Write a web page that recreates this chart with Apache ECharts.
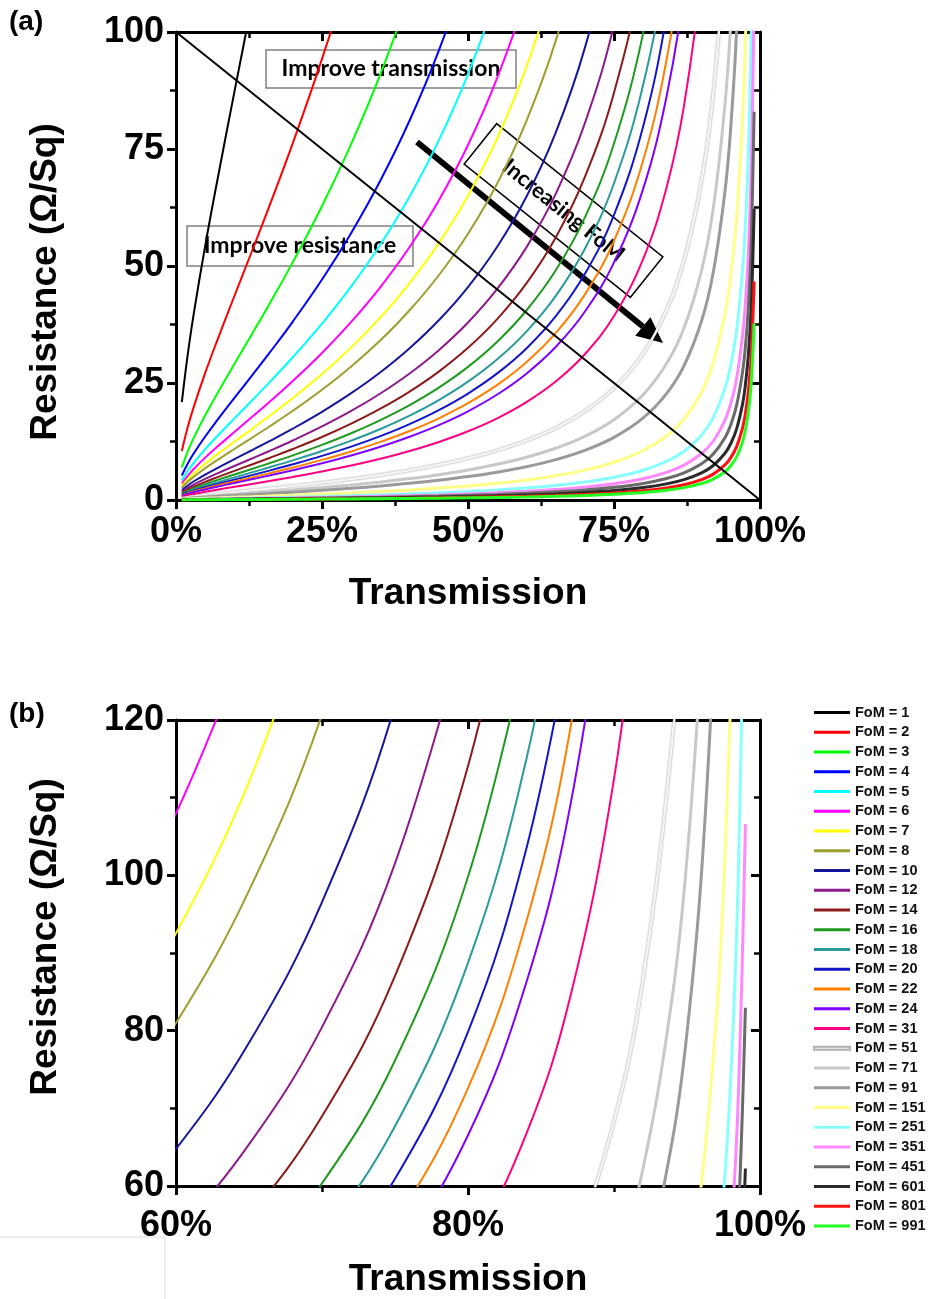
<!DOCTYPE html>
<html><head><meta charset="utf-8">
<script src="https://cdn.jsdelivr.net/npm/echarts@6/dist/echarts.min.js"></script>
<style>html,body{margin:0;padding:0;background:#fff}#c{width:931px;height:1299px}</style>
</head><body><div id="c"></div>
<script>
// Shared transmission grid (%)
const transmission = [1,2,3,5,7,10,13,16,20,25,30,35,40,45,50,55,60,65,70,75,80,84,87,90,92,94,95,96,97,97.5,98,98.5,99];
const fomValues = [1,2,3,4,5,6,7,8,10,12,14,16,18,20,22,24,31,51,71,91,151,251,351,451,601,801,991];
// Sheet resistance (Ohm/sq), aligned with transmission[]
const fom1 = [20.9,31.0,39.5,54.3,67.8,87.2,106.3,125.7];
const fom2 = [10.47,15.53,19.75,27.15,33.91,43.59,53.15,62.84,76.25,94.25,114.14,136.54];
const fom3 = [6.98,10.35,13.16,18.10,22.60,29.06,35.43,41.89,50.83,62.83,76.09,91.02,108.12,128.04];
const fom4 = [5.24,7.76,9.87,13.57,16.95,21.80,26.57,31.42,38.13,47.13,57.07,68.27,81.09,96.03,113.77,135.26];
const fom5 = [4.19,6.21,7.90,10.86,13.56,17.44,21.26,25.13,30.50,37.70,45.66,54.61,64.87,76.83,91.02,108.21,129.56];
const fom6 = [3.49,5.18,6.58,9.05,11.30,14.53,17.72,20.95,25.42,31.42,38.05,45.51,54.06,64.02,75.85,90.18,107.97,130.72];
const fom7 = [2.99,4.44,5.64,7.76,9.69,12.45,15.18,17.95,21.79,26.93,32.61,39.01,46.34,54.88,65.01,77.29,92.54,112.04,137.93];
const fom8 = [2.62,3.88,4.94,6.79,8.48,10.90,13.29,15.71,19.06,23.56,28.54,34.13,40.55,48.02,56.89,67.63,80.98,98.04,120.69,152.31];
const fom10 = [2.09,3.11,3.95,5.43,6.78,8.72,10.63,12.57,15.25,18.85,22.83,27.31,32.44,38.41,45.51,54.11,64.78,78.43,96.55,121.85,159.70];
const fom12 = [1.75,2.59,3.29,4.52,5.65,7.27,8.86,10.47,12.71,15.71,19.02,22.76,27.03,32.01,37.92,45.09,53.98,65.36,80.46,101.54,133.08];
const fom14 = [1.50,2.22,2.82,3.88,4.84,6.23,7.59,8.98,10.89,13.46,16.31,19.51,23.17,27.44,32.51,38.65,46.27,56.02,68.97,87.04,114.07,147.81];
const fom16 = [1.31,1.94,2.47,3.39,4.24,5.45,6.64,7.85,9.53,11.78,14.27,17.07,20.27,24.01,28.44,33.82,40.49,49.02,60.35,76.16,99.81,129.34];
const fom18 = [1.16,1.73,2.19,3.02,3.77,4.84,5.91,6.98,8.47,10.47,12.68,15.17,18.02,21.34,25.28,30.06,35.99,43.57,53.64,67.69,88.72,114.97,145.22];
const fom20 = [1.05,1.55,1.97,2.71,3.39,4.36,5.31,6.28,7.63,9.43,11.41,13.65,16.22,19.21,22.75,27.05,32.39,39.22,48.28,60.93,79.85,103.47,130.70];
const fom22 = [0.95,1.41,1.80,2.47,3.08,3.96,4.83,5.71,6.93,8.57,10.38,12.41,14.74,17.46,20.69,24.59,29.45,35.65,43.89,55.39,72.59,94.06,118.81,158.40];
const fom24 = [0.87,1.29,1.65,2.26,2.83,3.63,4.43,5.24,6.35,7.85,9.51,11.38,13.52,16.01,18.96,22.54,26.99,32.68,40.23,50.77,66.54,86.23,108.91,145.20];
const fom31 = [0.68,1.00,1.27,1.75,2.19,2.81,3.43,4.05,4.92,6.08,7.36,8.81,10.46,12.39,14.68,17.45,20.90,25.30,31.15,39.31,51.52,66.75,84.32,112.41,142.83];
const fom51 = [0.41,0.61,0.77,1.06,1.33,1.71,2.08,2.46,2.99,3.70,4.48,5.35,6.36,7.53,8.92,10.61,12.70,15.38,18.93,23.89,31.31,40.58,51.25,68.33,86.82,117.63,142.28];
const fom71 = [0.29,0.44,0.56,0.76,0.96,1.23,1.50,1.77,2.15,2.65,3.22,3.85,4.57,5.41,6.41,7.62,9.12,11.05,13.60,17.16,22.49,29.15,36.82,49.08,62.36,84.49,102.20,128.75];
const fom91 = [0.23,0.34,0.43,0.60,0.75,0.96,1.17,1.38,1.68,2.07,2.51,3.00,3.56,4.22,5.00,5.95,7.12,8.62,10.61,13.39,17.55,22.74,28.72,38.29,48.66,65.92,79.74,100.45,134.98];
const fom151 = [0.14,0.21,0.26,0.36,0.45,0.58,0.70,0.83,1.01,1.25,1.51,1.81,2.15,2.54,3.01,3.58,4.29,5.19,6.39,8.07,10.58,13.70,17.31,23.08,29.32,39.73,48.05,60.54,81.34,97.99,122.95];
const fom251 = [0.08,0.12,0.16,0.22,0.27,0.35,0.42,0.50,0.61,0.75,0.91,1.09,1.29,1.53,1.81,2.16,2.58,3.12,3.85,4.85,6.36,8.24,10.41,13.88,17.64,23.90,28.91,36.42,48.94,58.95,73.97,99.01,149.06];
const fom351 = [0.06,0.09,0.11,0.15,0.19,0.25,0.30,0.36,0.43,0.54,0.65,0.78,0.92,1.09,1.30,1.54,1.85,2.23,2.75,3.47,4.55,5.90,7.45,9.93,12.61,17.09,20.67,26.04,34.99,42.16,52.89,70.80,106.59];
const fom451 = [0.05,0.07,0.09,0.12,0.15,0.19,0.24,0.28,0.34,0.42,0.51,0.61,0.72,0.85,1.01,1.20,1.44,1.74,2.14,2.70,3.54,4.59,5.80,7.73,9.82,13.30,16.09,20.27,27.24,32.81,41.17,55.10,82.96];
const fom601 = [0.03,0.05,0.07,0.09,0.11,0.15,0.18,0.21,0.25,0.31,0.38,0.45,0.54,0.64,0.76,0.90,1.08,1.30,1.61,2.03,2.66,3.44,4.35,5.80,7.37,9.98,12.07,15.21,20.44,24.62,30.89,41.35,62.25];
const fom801 = [0.03,0.04,0.05,0.07,0.08,0.11,0.13,0.16,0.19,0.24,0.28,0.34,0.40,0.48,0.57,0.68,0.81,0.98,1.21,1.52,1.99,2.58,3.26,4.35,5.53,7.49,9.06,11.41,15.33,18.47,23.18,31.03,46.71];
const fom991 = [0.02,0.03,0.04,0.05,0.07,0.09,0.11,0.13,0.15,0.19,0.23,0.28,0.33,0.39,0.46,0.55,0.65,0.79,0.97,1.23,1.61,2.09,2.64,3.52,4.47,6.05,7.32,9.22,12.39,14.93,18.73,25.08,37.75];
const resistanceByFoM = [fom1,fom2,fom3,fom4,fom5,fom6,fom7,fom8,fom10,fom12,fom14,fom16,fom18,fom20,fom22,fom24,fom31,fom51,fom71,fom91,fom151,fom251,fom351,fom451,fom601,fom801,fom991];
// Diagonal guide line in panel (a): [transmission %, resistance]
const diagonalLine = [[0,100],[100,0]];
// Axis ticks
const xTicksA = [0,25,50,75,100];
const yTicksA = [0,25,50,75,100];
const xTicksB = [60,80,100];
const yTicksB = [60,80,100,120];

const lineColors = ['#000000','#ff0000','#00ff00','#0000ff','#00ffff','#ff00ff','#ffff00','#9e9e2e','#16169a','#8c1a8c','#8c1a1a','#1f9a1f','#2a9a9a','#1515c8','#ff8000','#8000ff','#ff0080','#f4f4f4','#c8c8c8','#9a9a9a','#ffff88','#88ffff','#ff88ff','#6a6a6a','#2a2a2a','#ff1010','#22ff22'];
const lineWidths = [2,2,2,2,2,2,2,2,2,2,2,2,2,2,2,2,2,2.5,3,3,3,3,3,3,3,3,3];

const FONT = 'Liberation Sans, Arial, sans-serif';
const LATO = 'Lato, Open Sans, sans-serif';
const chart = echarts.init(document.getElementById('c'), null, {renderer:'canvas'});

function axisPair(gridIndex, ticks, isX, fmt, margin) {
  const min = ticks[0], max = ticks[ticks.length-1], interval = ticks[1]-ticks[0];
  const main = {
    type:'value', gridIndex, min, max, interval,
    position: isX ? 'bottom' : 'left',
    axisLine:{show:true, onZero:false, lineStyle:{color:'#000', width:3}},
    axisTick:{show:true, inside:false, length:9, lineStyle:{color:'#000', width:3}},
    minorTick:{show:true, splitNumber:2, length:6, lineStyle:{color:'#000', width:2.5}},
    splitLine:{show:false},
    axisLabel:{show:true, margin: margin, color:'#000', fontFamily:FONT, fontWeight:'bold', fontSize:36, formatter: fmt}
  };
  const mirror = {
    type:'value', gridIndex, min, max, interval,
    position: isX ? 'top' : 'right',
    axisLine:{show:true, onZero:false, lineStyle:{color:'#000', width:3}},
    axisTick:{show:true, inside:true, length:9, lineStyle:{color:'#000', width:3}},
    minorTick:{show:true, splitNumber:2, length:6, lineStyle:{color:'#000', width:2.5}},
    splitLine:{show:false}, axisLabel:{show:false}
  };
  return [main, mirror];
}

const xa = axisPair(0, xTicksA, true, v => v + '%', 14);
const xb = axisPair(1, xTicksB, true, v => v + '%', 22);
const ya = axisPair(0, yTicksA, false, v => String(v), 12);
const yb = axisPair(1, yTicksB, false, v => String(v), 12);

const names = fomValues.map(f => 'FoM = ' + f);
const series = [];
fomValues.forEach((f, i) => {
  const pts = resistanceByFoM[i].map((r, j) => [transmission[j], r]);
  const pale = (f === 51);
  const base = {
    type:'line', name:names[i], data:pts, symbol:'none', showSymbol:false,
    smooth:0.4, silent:true, animation:false,
    lineStyle: pale
      ? {color:lineColors[i], width:lineWidths[i], shadowColor:'rgba(0,0,0,0.45)', shadowBlur:2}
      : {color:lineColors[i], width:lineWidths[i]},
    itemStyle: pale ? {color:lineColors[i], borderColor:'#b0b0b0', borderWidth:0.8} : {color:lineColors[i]}
  };
  series.push(Object.assign({}, base, {xAxisIndex:0, yAxisIndex:0}));
  series.push(Object.assign({}, base, {xAxisIndex:2, yAxisIndex:2}));
});
series.push({type:'line', name:'diag', data:diagonalLine, xAxisIndex:0, yAxisIndex:0, symbol:'none', silent:true, lineStyle:{color:'#000', width:2}, z:5});

// Arrow geometry (annotation)
const tip = [663, 343], tail = [417, 142];
const dx = tip[0]-tail[0], dy = tip[1]-tail[1], L = Math.hypot(dx, dy);
const ux = dx/L, uy = dy/L, nx = -uy, ny = ux;
const headLen = 26, headHalf = 12;
const bc = [tip[0]-headLen*ux, tip[1]-headLen*uy];

const titleFont = 'bold 37px ' + FONT;
const option = {
  animation:false,
  backgroundColor:'#fff',
  grid:[
    {left:176, top:32, width:584, height:468, containLabel:false},
    {left:176, top:720, width:584, height:466, containLabel:false}
  ],
  xAxis:[xa[0], xa[1], xb[0], xb[1]],
  yAxis:[ya[0], ya[1], yb[0], yb[1]],
  legend:{
    orient:'vertical', left:813, top:705, padding:0,
    itemWidth:36, itemHeight:3, itemGap:4.75, icon:'rect',
    selectedMode:false, data:names,
    textStyle:{fontFamily:FONT, fontWeight:'bold', fontSize:14.5, color:'#111', lineHeight:14}
  },
  series,
  graphic:[
    {type:'text', left:9, top:8, style:{text:'(a)', font:'bold 28px ' + FONT, fill:'#000'}},
    {type:'text', left:9, top:700, style:{text:'(b)', font:'bold 28px ' + FONT, fill:'#000'}},
    {type:'text', x:46, y:282, rotation:Math.PI/2, style:{text:'Resistance (\u03A9/Sq)', font:titleFont, fill:'#000', textAlign:'center', textVerticalAlign:'middle'}},
    {type:'text', x:46, y:937, rotation:Math.PI/2, style:{text:'Resistance (\u03A9/Sq)', font:titleFont, fill:'#000', textAlign:'center', textVerticalAlign:'middle'}},
    {type:'text', x:468, y:594, style:{text:'Transmission', font:titleFont, fill:'#000', textAlign:'center', textVerticalAlign:'middle'}},
    {type:'text', x:468, y:1280, style:{text:'Transmission', font:titleFont, fill:'#000', textAlign:'center', textVerticalAlign:'middle'}},
    {type:'group', z:100, children:[
      {type:'rect', shape:{x:266, y:50, width:250, height:38}, style:{fill:'#fff', stroke:'#808080', lineWidth:1.5}},
      {type:'text', x:391, y:69, style:{text:'Improve transmission', font:'bold 23px ' + LATO, fill:'#000', textAlign:'center', textVerticalAlign:'middle'}},
      {type:'rect', shape:{x:187, y:226, width:226, height:40}, style:{fill:'#fff', stroke:'#808080', lineWidth:1.5}},
      {type:'text', x:300, y:246, style:{text:'Improve resistance', font:'bold 23px ' + LATO, fill:'#000', textAlign:'center', textVerticalAlign:'middle'}},
      {type:'group', x:563.5, y:210.5, rotation:-38.7*Math.PI/180, children:[
        {type:'rect', shape:{x:-106.5, y:-26, width:213, height:52}, style:{fill:'#fff', stroke:'#000', lineWidth:1.5}},
        {type:'text', x:0, y:0, style:{text:'Increasing FoM', font:'bold 22px ' + LATO, fill:'#000', textAlign:'center', textVerticalAlign:'middle'}}
      ]},
      {type:'line', shape:{x1:tail[0], y1:tail[1], x2:bc[0], y2:bc[1]}, style:{stroke:'#000', lineWidth:6}},
      {type:'polygon', shape:{points:[tip, [bc[0]+headHalf*nx, bc[1]+headHalf*ny], [bc[0]-headHalf*nx, bc[1]-headHalf*ny]]}, style:{fill:'#000'}}
    ]},
    {type:'line', shape:{x1:0, y1:1237, x2:165, y2:1237}, style:{stroke:'#dddddd', lineWidth:1}},
    {type:'line', shape:{x1:165, y1:1237, x2:165, y2:1299}, style:{stroke:'#dddddd', lineWidth:1}}
  ]
};
chart.setOption(option);
</script>
</body></html>
